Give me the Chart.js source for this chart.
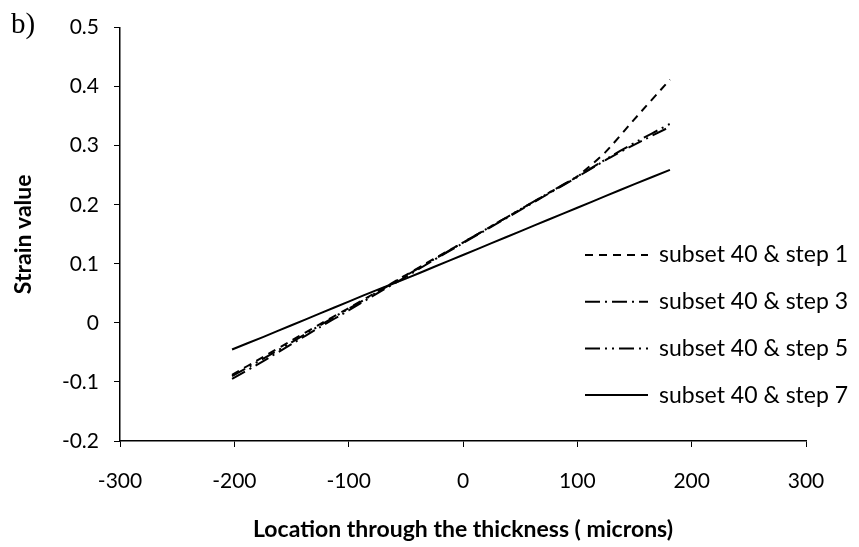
<!DOCTYPE html>
<html>
<head>
<meta charset="utf-8">
<script src="https://cdn.jsdelivr.net/npm/chart.js@4/dist/chart.umd.min.js"></script>
<style>
  html, body { margin: 0; padding: 0; background: #fff; }
  #wrap { width: 859px; height: 547px; position: relative; }
</style>
</head>
<body>
<div id="wrap"><canvas id="strainChart"></canvas></div>
<script>
// Location through the thickness (microns)
const locations = [-202, -175, -150, -125, -100, -75, -50, -25, 0, 25, 50, 75, 100, 125, 150, 181];

// Strain values per step
const step1 = [-0.088, -0.058, -0.030, -0.002, 0.025, 0.053, 0.081, 0.109, 0.136, 0.164, 0.192, 0.220, 0.248, 0.290, 0.345, 0.412];
const step3 = [-0.095, -0.065, -0.036, -0.007, 0.021, 0.050, 0.078, 0.107, 0.135, 0.163, 0.191, 0.219, 0.247, 0.276, 0.302, 0.332];
const step5 = [-0.090, -0.061, -0.033, -0.004, 0.024, 0.052, 0.080, 0.108, 0.136, 0.164, 0.192, 0.220, 0.248, 0.277, 0.305, 0.337];
const step7 = [-0.045, -0.024, -0.004, 0.016, 0.036, 0.056, 0.075, 0.095, 0.115, 0.135, 0.155, 0.175, 0.195, 0.215, 0.235, 0.259];

const seriesNames = ["subset 40 & step 1", "subset 40 & step 3", "subset 40 & step 5", "subset 40 & step 7"];
const xTickLabels = ["-300", "-200", "-100", "0", "100", "200", "300"];
const yTickLabels = ["-0.2", "-0.1", "0", "0.1", "0.2", "0.3", "0.4", "0.5"];

const dashes = [[8, 6], [15, 5, 2, 5], [15, 5, 2, 5, 2, 5], []];
const font = "Lato";

function points(ys) {
  return locations.map((x, i) => ({ x: x, y: ys[i] }));
}

// legend drawn inside the plot, to the lower right
const sideLegend = {
  id: "sideLegend",
  afterDraw(chart) {
    const ctx = chart.ctx;
    ctx.save();
    chart.data.datasets.forEach((ds, i) => {
      const y = 255 + i * 46.7;
      ctx.strokeStyle = "#000";
      ctx.lineWidth = 2;
      ctx.setLineDash(ds.borderDash);
      ctx.beginPath();
      ctx.moveTo(585, y);
      ctx.lineTo(648, y);
      ctx.stroke();
      ctx.setLineDash([]);
      ctx.fillStyle = "#000";
      ctx.font = "23px " + font;
      ctx.textAlign = "left";
      ctx.textBaseline = "middle";
      ctx.fillText(ds.label, 659, y);
    });
    // panel letter
    ctx.font = "29px 'Liberation Serif'";
    ctx.textBaseline = "middle";
    ctx.fillText("b)", 11, 25);
    ctx.restore();
  }
};

const ctx = document.getElementById("strainChart").getContext("2d");
const strainChart = new Chart(ctx, {
  type: "scatter",
  data: {
    datasets: [step1, step3, step5, step7].map((ys, i) => ({
      label: seriesNames[i],
      data: points(ys),
      showLine: true,
      borderColor: "#000",
      backgroundColor: "#000",
      borderWidth: 2,
      borderDash: dashes[i],
      pointRadius: 0,
      tension: 0.2,
    })),
  },
  options: {
    responsive: true,
    maintainAspectRatio: false,
    animation: false,
    layout: { padding: { left: 6, right: 53, top: 20, bottom: 0 } },
    plugins: {
      legend: { display: false },
      tooltip: { enabled: false },
    },
    scales: {
      x: {
        type: "linear",
        min: -300,
        max: 300,
        afterFit: (s) => { s.height = 106; },
        afterBuildTicks: (s) => { s.ticks = xTickLabels.map((v) => ({ value: Number(v) })); },
        ticks: {
          color: "#000",
          padding: 22,
          font: { family: font, size: 21 },
          callback: (v) => String(v),
        },
        grid: { drawOnChartArea: false, color: "#000", tickLength: 6 },
        border: { color: "#000", width: 1.5 },
        title: {
          display: true,
          text: "Location through the thickness ( microns)",
          color: "#000",
          font: { family: font, size: 23, weight: "bold" },
        },
      },
      y: {
        min: -0.2,
        max: 0.5,
        afterFit: (s) => { s.width = 114; },
        afterBuildTicks: (s) => { s.ticks = yTickLabels.map((v) => ({ value: Number(v) })); },
        ticks: {
          color: "#000",
          padding: 15,
          font: { family: font, size: 21 },
          callback: (v) => String(Math.round(v * 10) / 10),
        },
        grid: { drawOnChartArea: false, color: "#000", tickLength: 6 },
        border: { color: "#000", width: 1.5 },
        title: {
          display: true,
          text: "Strain value",
          color: "#000",
          font: { family: font, size: 23, weight: "bold" },
        },
      },
    },
  },
  plugins: [sideLegend],
});
</script>
</body>
</html>
